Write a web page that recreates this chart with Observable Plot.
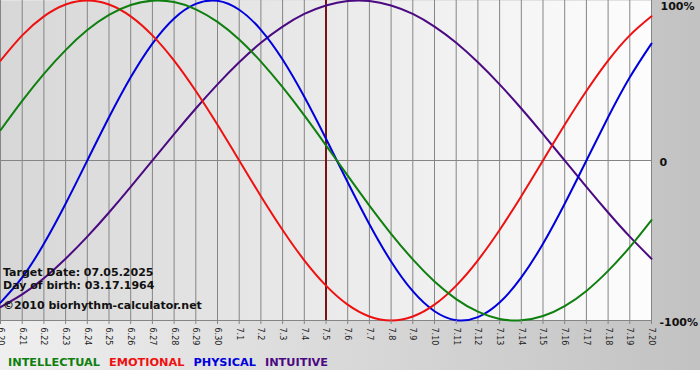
<!DOCTYPE html>
<html><head><meta charset="utf-8">
<script src="https://cdn.jsdelivr.net/npm/d3@7"></script>
<script src="https://cdn.jsdelivr.net/npm/@observablehq/plot@0.6"></script>
<style>
body{margin:0;background:#fff;}
#wrap{position:relative;width:700px;height:370px;background:linear-gradient(to right,#efefef,#c2c2c2);font-family:"DejaVu Sans",Verdana,sans-serif;overflow:hidden;}
#chart{position:absolute;left:0;top:0;}
#legend{position:absolute;left:8px;top:357px;font-weight:bold;font-size:11.3px;line-height:11px;white-space:nowrap;}
#legend span{margin-right:9px;}
.info{position:absolute;left:3px;font-weight:bold;font-size:11px;line-height:11px;color:#111;white-space:nowrap;}
</style></head><body>
<div id="wrap"><div id="chart"></div><div id="legend"></div><div id="info"></div></div>
<script>
const dayLabels = ["6.20","6.21","6.22","6.23","6.24","6.25","6.26","6.27","6.28","6.29","6.30",
  "7.1","7.2","7.3","7.4","7.5","7.6","7.7","7.8","7.9","7.10","7.11","7.12","7.13","7.14","7.15","7.16","7.17","7.18","7.19","7.20"];
const targetLabel = "7.5";
const intellectual = [0.189,0.372,0.541,0.690,0.815,0.910,0.972,0.999,0.990,0.945,0.866,0.756,0.618,0.458,0.282,0.095,
  -0.095,-0.282,-0.458,-0.618,-0.756,-0.866,-0.945,-0.990,-0.999,-0.972,-0.910,-0.815,-0.690,-0.541,-0.372];
const emotional = [0.624,0.782,0.901,0.975,1.000,0.975,0.901,0.782,0.624,0.434,0.223,0.000,-0.223,-0.434,-0.624,-0.782,
  -0.901,-0.975,-1.000,-0.975,-0.901,-0.782,-0.624,-0.434,-0.223,0.000,0.223,0.434,0.624,0.782,0.901];
const physical = [-0.888,-0.731,-0.520,-0.270,0.000,0.270,0.520,0.731,0.888,0.979,0.998,0.942,0.817,0.631,0.398,0.136,
  -0.136,-0.398,-0.631,-0.817,-0.942,-0.998,-0.979,-0.888,-0.731,-0.520,-0.270,0.000,0.270,0.520,0.731];
const intuitive = [-0.916,-0.837,-0.736,-0.614,-0.476,-0.325,-0.165,0.000,0.165,0.325,0.476,0.614,0.736,0.837,0.916,0.969,
  0.997,0.997,0.969,0.916,0.837,0.736,0.614,0.476,0.325,0.165,0.000,-0.165,-0.325,-0.476,-0.614];
const seriesNames = ["INTELLECTUAL","EMOTIONAL","PHYSICAL","INTUITIVE"];
const seriesColors = ["#0f7f0f","#ee1111","#0000dd","#4b0a82"];
const yLabelValues = [1, 0, -1];
const yLabelTexts = ["100%", "0", "-100%"];
const infoLines = ["Target Date: 07.05.2025", "Day of birth: 03.17.1964", "\u00a92010 biorhythm-calculator.net"];

const days = dayLabels.map((_, i) => i);
const targetIndex = dayLabels.indexOf(targetLabel);
const mk = arr => arr.map((v, i) => ({day: i, value: v}));
const lineOpts = (c) => ({x: "day", y: "value", stroke: c, strokeWidth: 2, curve: "natural"});

const chart = Plot.plot({
  width: 700, height: 348,
  marginLeft: 0, marginRight: 49, marginTop: 0, marginBottom: 28,
  style: {background: "transparent", fontFamily: "DejaVu Sans, Verdana, sans-serif", color: "#222"},
  x: {domain: [0, dayLabels.length - 1]},
  y: {domain: [-1, 1], axis: null},
  marks: [
    Plot.frame({fill: "url(#pg)", stroke: null}),
    Plot.ruleX(days, {x: d => d, stroke: "#858585", strokeWidth: 1}),
    Plot.ruleY([0, -1], {stroke: "#858585", strokeWidth: 1}),
    Plot.ruleX([targetIndex], {stroke: "#7a1414", strokeWidth: 2}),
    Plot.line(mk(intuitive), lineOpts(seriesColors[3])),
    Plot.line(mk(physical), lineOpts(seriesColors[2])),
    Plot.line(mk(emotional), lineOpts(seriesColors[1])),
    Plot.line(mk(intellectual), lineOpts(seriesColors[0])),
    Plot.axisX({ticks: days, tickFormat: i => dayLabels[i], tickSize: 4, tickPadding: 3, tickRotate: 90,
      stroke: "#858585", fontSize: 8, fill: "#222", label: null}),
    Plot.text(yLabelValues.slice(0,1), {x: dayLabels.length - 1, y: d => d, text: d => yLabelTexts[yLabelValues.indexOf(d)],
      dx: 9, textAnchor: "start", lineAnchor: "top", dy: 2, fontWeight: "bold", fontSize: 11, fill: "#111"}),
    Plot.text(yLabelValues.slice(1), {x: dayLabels.length - 1, y: d => d, text: d => yLabelTexts[yLabelValues.indexOf(d)],
      dx: 8, textAnchor: "start", lineAnchor: "middle", dy: 2, fontWeight: "bold", fontSize: 11, fill: "#111"})
  ]
});
const ns = "http://www.w3.org/2000/svg";
const defs = document.createElementNS(ns, "defs");
defs.innerHTML = '<linearGradient id="pg" x1="0" x2="1" y1="0" y2="0"><stop offset="0" stop-color="#d7d7d7"/><stop offset="1" stop-color="#fdfdfd"/></linearGradient>';
chart.insertBefore(defs, chart.firstChild);
document.getElementById("chart").appendChild(chart);

const legend = document.getElementById("legend");
seriesNames.forEach((n, i) => {
  const s = document.createElement("span");
  s.textContent = n; s.style.color = seriesColors[i];
  legend.appendChild(s);
});
const tops = [267, 280, 300];
const info = document.getElementById("info");
infoLines.forEach((t, i) => {
  const d = document.createElement("div");
  d.className = "info"; d.style.top = tops[i] + "px"; d.textContent = t;
  info.appendChild(d);
});
</script>
</body></html>
